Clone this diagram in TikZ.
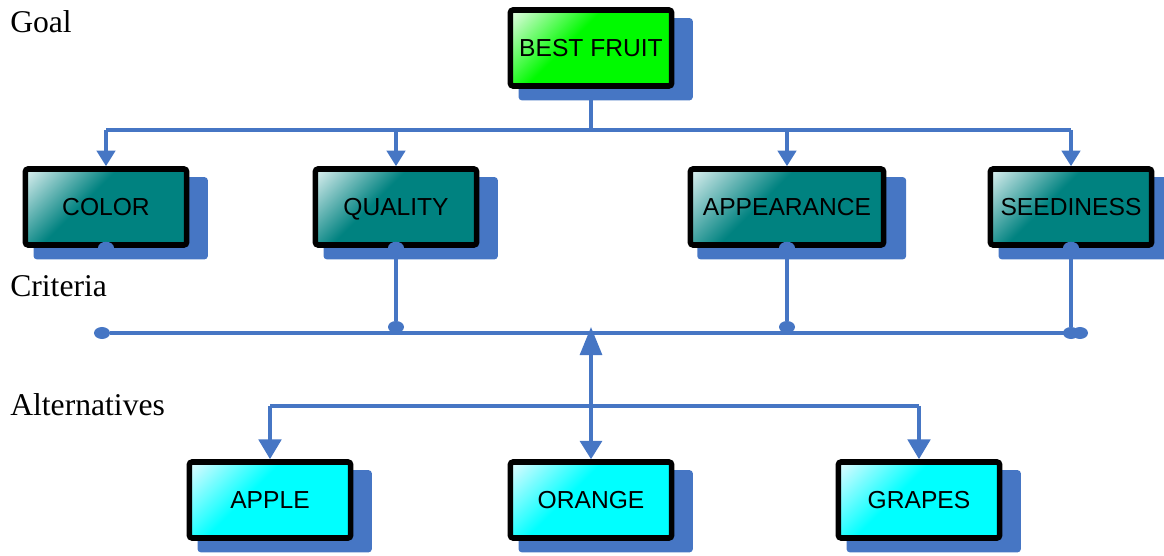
\documentclass[tikz,border=0pt]{standalone}
\usepackage{fontspec}
\setmainfont{Liberation Serif}
\setsansfont{Liberation Sans}
\usetikzlibrary{arrows.meta,shapes.geometric,shadows}
\definecolor{lineblue}{RGB}{70,118,196}
\definecolor{goalhi}{RGB}{230,252,230}
\definecolor{goallo}{RGB}{0,250,0}
\definecolor{crithi}{RGB}{220,240,240}
\definecolor{critlo}{RGB}{0,130,128}
\definecolor{althi}{RGB}{225,250,255}
\definecolor{altlo}{RGB}{0,255,255}
\pgfdeclarehorizontalshading{goalshade}{100bp}{color(0bp)=(goalhi); color(15bp)=(goalhi); color(42bp)=(goallo); color(100bp)=(goallo)}
\pgfdeclarehorizontalshading{critshade}{100bp}{color(0bp)=(crithi); color(15bp)=(crithi); color(42bp)=(critlo); color(100bp)=(critlo)}
\pgfdeclarehorizontalshading{altshade}{100bp}{color(0bp)=(althi); color(15bp)=(althi); color(42bp)=(altlo); color(100bp)=(altlo)}

\begin{document}
\begin{tikzpicture}[x=0.025cm, y=-0.025cm,
box/.style={rectangle, draw=black, line width=4pt, rounded corners=2pt,
  minimum width=4.03cm, minimum height=1.9cm, text height=12.6pt, text depth=0pt,
  font=\fontsize{17.5}{20}\sffamily,
  general shadow={fill=lineblue, shadow xshift=0.34cm, shadow yshift=-0.26cm,
    shadow scale=1.08}},
goalbox/.style={box, shade, shading=goalshade, shading angle=-45},
critbox/.style={box, shade, shading=critshade, shading angle=-45},
altbox/.style={box, shade, shading=altshade, shading angle=-45},
level/.style={anchor=base west, inner sep=0pt, font=\fontsize{22.5}{26}\selectfont},
link/.style={draw=lineblue, line width=2.4pt},
dot/.style={ellipse, fill=lineblue, inner sep=0pt, minimum width=0.4cm, minimum height=0.3cm},
]
\useasboundingbox (0,0) rectangle (1164,556);
%levels
\node (goallbl) [level] at (10,33) {Goal};
\node (critlbl) [level] at (10,297) {Criteria};
\node (altlbl) [level] at (10,415) {Alternatives};
%goal
\node (goal) [goalbox] at (591,48) {BEST FRUIT};
%criteria row
\node (color) [critbox] at (106,207) {COLOR};
\node (quality) [critbox] at (396,207) {QUALITY};
\node (appear) [critbox, minimum width=4.83cm] at (787,207) {APPEARANCE};
\node (seed) [critbox] at (1071,207) {SEEDINESS};
%alternatives row
\node (apple) [altbox] at (270,500) {APPLE};
\node (orange) [altbox] at (591,500) {ORANGE};
\node (grapes) [altbox] at (919,500) {GRAPES};

\coordinate (split) at (591,130);
\coordinate (bus) at (591,333);
\coordinate (busup) at (591,327);
\coordinate (altsplit) at (591,406);

\draw [link] (goal.south)--(split);
\draw [link] (color.north |- split)--(seed.north |- split);
\foreach \c in {color,quality,appear,seed}
  \draw [link,-{Triangle[length=11pt,width=13pt]}] (\c.north |- split)--(\c.north);
\foreach \c in {color,quality,appear,seed}
  \node (\c-dot) [dot] at (\c.south) {};

\node (busleft) [dot] at (102,333) {};
\node (busright) [dot] at (1080,333) {};
\node (seed-end) [dot] at (seed.south |- bus) {};
\draw [link] (busleft)--(busright);
\foreach \c in {quality,appear}{
  \node (\c-end) [dot] at (\c.south |- busup) {};
  \draw [link] (\c-dot)--(\c-end);
}
\draw [link] (seed-dot)--(seed-end);

\draw [link,{Triangle[length=20pt,width=15.6pt]}-{Triangle[length=13pt,width=15.6pt]}] (busup)--(orange.north);
\draw [link] (apple.north |- altsplit)--(grapes.north |- altsplit);
\foreach \c in {apple,grapes}
  \draw [link,-{Triangle[length=14pt,width=16pt]}] (\c.north |- altsplit)--(\c.north);
\end{tikzpicture}
\end{document}
